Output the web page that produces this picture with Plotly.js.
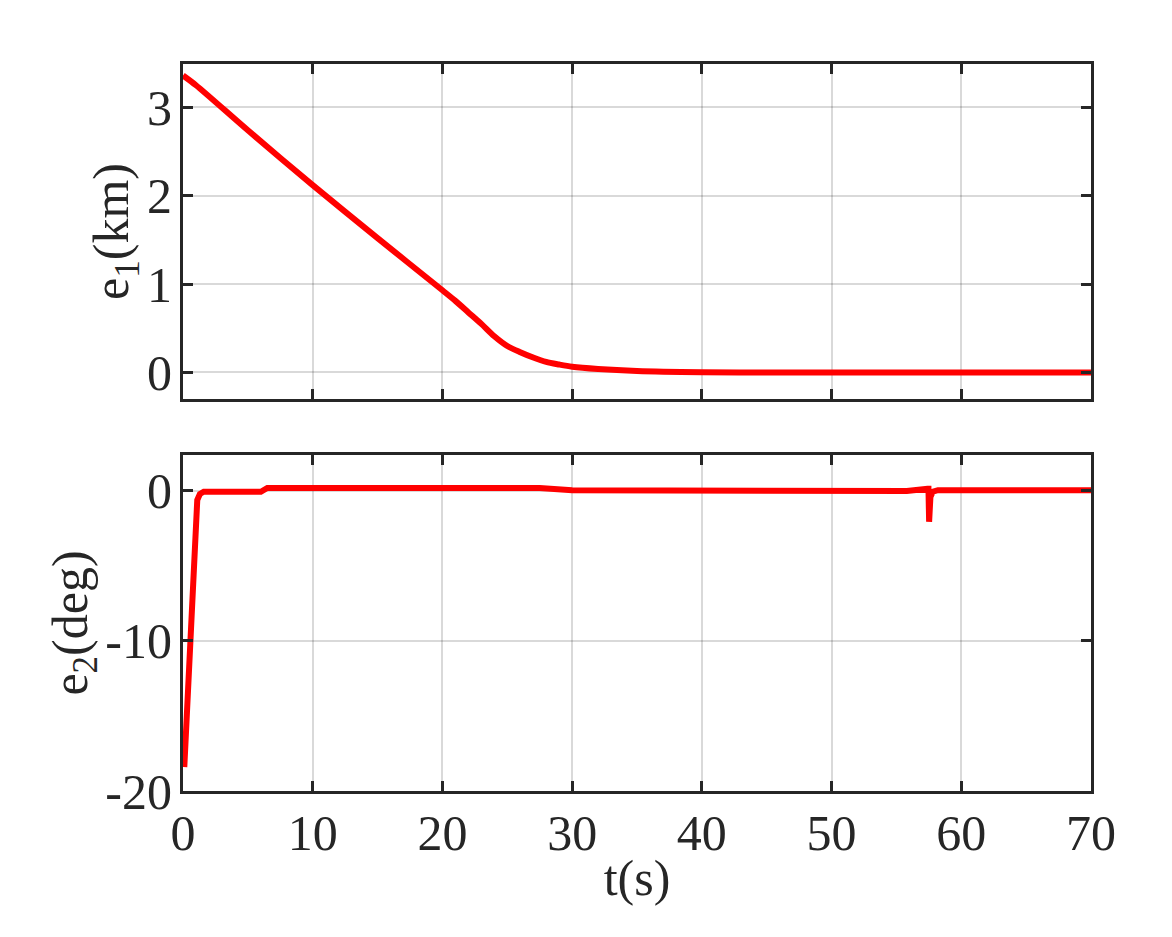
<!DOCTYPE html>
<html>
<head>
<meta charset="utf-8">
<script src="https://cdn.plot.ly/plotly-3.0.1.min.js"></script>
<style>
  html, body { margin: 0; padding: 0; background: #fff; }
  #chart { width: 1172px; height: 937px; }
</style>
</head>
<body>
<div id="chart"></div>
<script>
// e1 distance error (km)
const t1 = [0, 1, 5, 10, 15, 20, 21, 22, 23, 24, 25, 26, 27, 28, 29, 30, 32, 35, 40, 45, 55, 70];
const e1 = [3.36, 3.25, 2.74, 2.12, 1.52, 0.93, 0.81, 0.68, 0.55, 0.41, 0.30, 0.23, 0.17, 0.12, 0.09, 0.065, 0.04, 0.018, 0.004, 0, 0, 0];

// e2 heading error (deg)
const t2 = [0.1, 0.54, 0.93, 1.1, 1.3, 1.6, 2.0, 6.0, 6.5, 10, 20, 25, 27.5, 30, 40, 50, 55.8, 57.4, 57.47, 57.52, 57.56, 57.62, 57.8, 58.2, 60, 70];
const e2 = [-18.4, -10, -1.7, -0.6, -0.2, -0.05, -0.05, -0.05, 0.2, 0.2, 0.25, 0.25, 0.2, 0.05, 0, -0.02, 0, 0.15, 0.15, -2.05, -1.5, -0.4, -0.05, 0.05, 0.05, 0.05];

const xTicks = [0, 10, 20, 30, 40, 50, 60, 70];
const y1Ticks = [0, 1, 2, 3];
const y2Ticks = [-20, -10, 0];
const y2TickText = ["-20", "-10", "0"];

const ink = "#262626";
const font = { family: "Liberation Serif, DejaVu Serif, serif", color: ink, size: 50 };

const axisBase = {
  showline: true,
  mirror: "ticks",
  linecolor: ink,
  linewidth: 3,
  ticks: "inside",
  ticklen: 10,
  tickwidth: 3,
  tickcolor: ink,
  showgrid: true,
  gridcolor: "rgba(0,0,0,0.15)",
  gridwidth: 2,
  zeroline: false,
  tickfont: font,
};

Plotly.newPlot(
  "chart",
  [
    { x: t1, y: e1, xaxis: "x", yaxis: "y", mode: "lines", line: { color: "#ff0000", width: 6, shape: "spline", smoothing: 0.8 }, hoverinfo: "skip" },
    { x: t2, y: e2, xaxis: "x2", yaxis: "y2", mode: "lines", line: { color: "#ff0000", width: 6 }, hoverinfo: "skip" },
  ],
  {
    width: 1172,
    height: 937,
    paper_bgcolor: "#fff",
    plot_bgcolor: "#fff",
    font: font,
    showlegend: false,
    margin: { l: 183, r: 81, t: 64, b: 146 },
    xaxis: { ...axisBase, anchor: "y", range: [0, 70], tickvals: xTicks, showticklabels: false },
    yaxis: {
      ...axisBase, domain: [0.5392, 1], anchor: "x", range: [-0.3, 3.49], tickvals: y1Ticks,
      ticklabelstandoff: -2,
      title: { text: "e<sub>1</sub>(km)", font: font, standoff: 0 },
    },
    xaxis2: {
      ...axisBase, anchor: "y2", range: [0, 70], tickvals: xTicks, matches: "x",
      ticklabelstandoff: -4,
      title: { text: "t(s)", font: font, standoff: 0 },
    },
    yaxis2: {
      ...axisBase, domain: [0, 0.4622], anchor: "x2", range: [-20, 2.4], tickvals: y2Ticks, ticktext: y2TickText,
      ticklabelstandoff: -2,
      title: { text: "e<sub>2</sub>(deg)", font: font, standoff: 0 },
    },
  },
  { staticPlot: true }
);
</script>
</body>
</html>
